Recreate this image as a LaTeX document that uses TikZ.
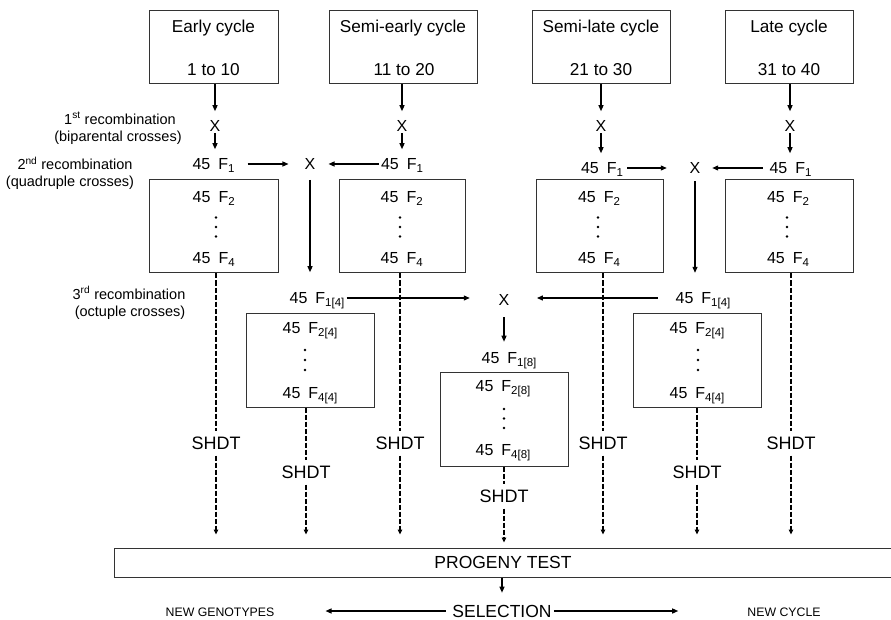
\documentclass[tikz,border=0pt]{standalone}
\usepackage{fontspec}
\setmainfont{Liberation Sans}
\usetikzlibrary{arrows.meta}
\newcommand\fntTop{\fontsize{17.2}{20}\selectfont}
\newcommand\fntGen{\fontsize{16}{19}\selectfont}
\newcommand\fntLab{\fontsize{14.5}{17}\selectfont}
\newcommand\fntSh{\fontsize{18}{21}\selectfont}
\newcommand\fntBig{\fontsize{17.5}{20}\selectfont}
\newcommand\fntSm{\fontsize{12.3}{14}\selectfont}
\newcommand\gsub[1]{\raisebox{-3pt}{\fontsize{11.5}{12}\selectfont #1}}
\newcommand\gen[1]{45\hspace{8pt}F\gsub{#1}}
\begin{document}
\begin{tikzpicture}[x=1pt,y=-1pt,
  box/.style={draw=black!80,line width=1pt,inner sep=0pt},
  ttop/.style={inner sep=0pt,font=\fntTop,text height=12pt,text depth=0pt},
  tgen/.style={inner sep=0pt,font=\fntGen,text height=11.2pt,text depth=0pt},
  tlab/.style={inner sep=0pt,font=\fntLab,text height=10.2pt,text depth=0pt},
  xmark/.style={inner sep=0pt,font=\fntGen,text height=11.2pt,text depth=0pt},
  shdt/.style={inner xsep=0pt,inner ysep=6pt,font=\fntSh,text height=12.6pt,text depth=0pt},
  big/.style={inner sep=0pt,font=\fntBig,text height=12.25pt,text depth=0pt},
  small/.style={inner sep=0pt,font=\fntSm,text height=8.6pt,text depth=0pt},
  arr/.style={line width=1.2pt,-{Triangle[length=6pt,width=5pt]}},
  dsh/.style={line width=1.1pt,dash pattern=on 5pt off 2pt},
  darr/.style={dsh,-{Triangle[length=5pt,width=4.5pt]}},
  dotc/.style={fill=black}]
\useasboundingbox (0,0) rectangle (891,620);
% top boxes
\node[box,minimum width=129pt,minimum height=73pt] (c1) at (213.5,47.5) {};
\node[box,minimum width=148pt,minimum height=73pt] (c2) at (403,47.5) {};
\node[box,minimum width=138pt,minimum height=73pt] (c3) at (601,47.5) {};
\node[box,minimum width=128pt,minimum height=73pt] (c4) at (789,47.5) {};
\node[ttop] (c1a) at (213.5,27) {Early cycle};
\node[ttop] (c1b) at (213.5,70) {1 to 10};
\node[ttop] (c2a) at (403,27) {Semi-early cycle};
\node[ttop] (c2b) at (404,70) {11 to 20};
\node[ttop] (c3a) at (601,27) {Semi-late cycle};
\node[ttop] (c3b) at (601,70) {21 to 30};
\node[ttop] (c4a) at (789,27) {Late cycle};
\node[ttop] (c4b) at (789,70) {31 to 40};
% row labels
\node[tlab] (r1a) at (120,119) {1\textsuperscript{st} recombination};
\node[tlab] (r1b) at (118,136.5) {(biparental crosses)};
\node[tlab] (r2a) at (75,164.5) {2\textsuperscript{nd} recombination};
\node[tlab] (r2b) at (70,181) {(quadruple crosses)};
\node[tlab] (r3a) at (129,294) {3\textsuperscript{rd} recombination};
\node[tlab] (r3b) at (130,311) {(octuple crosses)};
% first crosses
\node[xmark] (x1) at (215,126) {X};
\node[xmark] (x2) at (402,126) {X};
\node[xmark] (x3) at (601,126) {X};
\node[xmark] (x4) at (790,126) {X};
\node[tgen] (g1) at (213.5,164) {\gen{1}};
\node[tgen] (g2) at (402,164) {\gen{1}};
\node[tgen] (g3) at (602,168) {\gen{1}};
\node[tgen] (g4) at (790.5,168) {\gen{1}};
\foreach \c/\x/\g in {c1/x1/g1,c2/x2/g2,c3/x3/g3,c4/x4/g4}{
  \draw[arr,shorten >=9pt] (\x |- \c.south) -- (\x.north);
  \draw[arr,shorten <=1.5pt,shorten >=9pt] (\x.south) -- (\x.south |- \g.north);
}
% second crosses
\node[xmark] (xa) at (310,164) {X};
\node[xmark] (xb) at (695,168) {X};
\draw[arr,shorten <=13pt,shorten >=16pt] (g1.east) -- (xa.west);
\draw[arr,shorten <=2pt,shorten >=13pt] (g2.west) -- (xa.east);
\draw[arr,shorten <=4pt,shorten >=22.7pt] (g3.east) -- (xb.west);
\draw[arr,shorten <=6.5pt,shorten >=11.7pt] (g4.west) -- (xb.east);
% row 2 boxes
\node[box,minimum width=129pt,minimum height=93pt] (b1) at (213.5,226.5) {};
\node[box,minimum width=126pt,minimum height=93pt] (b2) at (402,226.5) {};
\node[box,minimum width=127pt,minimum height=93pt] (b3) at (599.5,226.5) {};
\node[box,minimum width=128pt,minimum height=93pt] (b4) at (789,226.5) {};
\node[tgen] (f1a) at (213.7,197) {\gen{2}};
\node[tgen] (f1b) at (213.7,258) {\gen{4}};
\node[tgen] (f2a) at (401.7,197) {\gen{2}};
\node[tgen] (f2b) at (401.7,258) {\gen{4}};
\node[tgen] (f3a) at (599,197) {\gen{2}};
\node[tgen] (f3b) at (599,258) {\gen{4}};
\node[tgen] (f4a) at (788,197) {\gen{2}};
\node[tgen] (f4b) at (788,258) {\gen{4}};
\foreach \dx in {216,400,598,787}{
  \foreach \dy in {217.5,227,236.5}{\fill[dotc] (\dx,\dy) circle (1.3pt);}
}
% third crosses
\node[tgen] (g5) at (317,298) {\gen{1[4]}};
\node[tgen] (g6) at (703,298) {\gen{1[4]}};
\node[xmark] (xc) at (504,299.5) {X};
\draw[arr,shorten <=10pt,shorten >=20pt] (xa.south) -- (xa.south |- g5.north);
\draw[arr,shorten <=7.5pt,shorten >=19.4pt] (xb.south) -- (xb.south |- g6.north);
\draw[arr,shorten <=2pt,shorten >=28.7pt] (g5.east) -- (g5.east -| xc.west);
\draw[arr,shorten <=17.5pt,shorten >=27.4pt] (g6.west) -- (g6.west -| xc.east);
\node[tgen] (g7) at (509,358) {\gen{1[8]}};
\draw[arr,shorten <=12pt,shorten >=10.5pt] (xc.south) -- (xc.south |- g7.north);
% row 3 boxes
\node[box,minimum width=128pt,minimum height=94pt] (b5) at (310,360) {};
\node[box,minimum width=128pt,minimum height=94pt] (b6) at (697,360) {};
\node[box,minimum width=128pt,minimum height=94pt] (b7) at (504,419) {};
\node[tgen] (f5a) at (310,328) {\gen{2[4]}};
\node[tgen] (f5b) at (310,393) {\gen{4[4]}};
\node[tgen] (f6a) at (697,328) {\gen{2[4]}};
\node[tgen] (f6b) at (697,393) {\gen{4[4]}};
\node[tgen] (f7a) at (503,386) {\gen{2[8]}};
\node[tgen] (f7b) at (503,450) {\gen{4[8]}};
\foreach \dx in {305,698}{
  \foreach \dy in {350,360,370}{\fill[dotc] (\dx,\dy) circle (1.3pt);}
}
\foreach \dy in {409,418.5,428}{\fill[dotc] (504,\dy) circle (1.3pt);}
% progeny test
\node[box,big,minimum width=778pt,minimum height=29pt] (pt) at (503,562.5) {PROGENY TEST};
% SHDT
\node[shdt] (s1) at (216,443) {SHDT};
\node[shdt] (s2) at (306,472) {SHDT};
\node[shdt] (s3) at (400,443) {SHDT};
\node[shdt] (s4) at (504,496) {SHDT};
\node[shdt] (s5) at (603,443) {SHDT};
\node[shdt] (s6) at (697,472) {SHDT};
\node[shdt] (s7) at (791,443) {SHDT};
\foreach \s/\b/\sh in {s1/b1/13,s2/b5/13,s3/b2/13,s4/b7/5,s5/b3/13,s6/b6/13,s7/b4/13}{
  \draw[dsh] (\s |- \b.south) -- (\s.north);
  \draw[darr,shorten >=\sh pt] (\s.south) -- (\s |- pt.north);
}
% selection
\node[big] (sel) at (502,611) {SELECTION};
\node[small] (ng) at (220,612.5) {NEW GENOTYPES};
\node[small] (nc) at (784,612.5) {NEW CYCLE};
\draw[arr,shorten >=12pt] (sel |- pt.south) -- (sel.north);
\draw[arr,shorten <=6.5pt,shorten >=51pt] (sel.west) -- (sel.west -| ng.east);
\draw[arr,shorten <=2pt,shorten >=69pt] (sel.east) -- (sel.east -| nc.west);
\end{tikzpicture}
\end{document}
